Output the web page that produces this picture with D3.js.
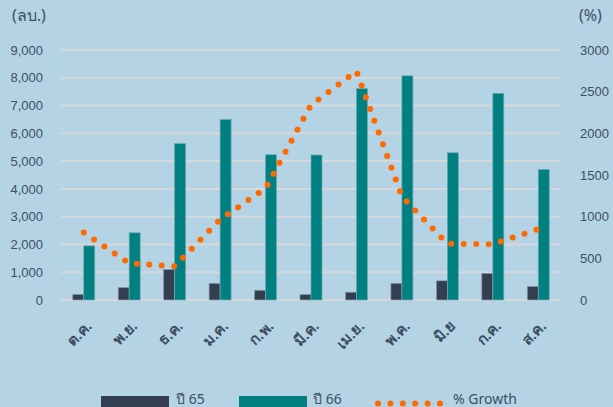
<!DOCTYPE html>
<html>
<head>
<meta charset="utf-8">
<script src="https://cdn.jsdelivr.net/npm/d3@7"></script>
<style>
  body { margin: 0; background: #b4d3e5; }
  svg { display: block; font-family: "Noto Sans", "DejaVu Sans", sans-serif; }
  .tick text { fill: #3d4f63; font-size: 13px; }
</style>
</head>
<body>
<div id="chart"></div>
<script>
// months (Thai fiscal year, Oct - Aug)
var months = ["ต.ค.", "พ.ย.", "ธ.ค.", "ม.ค.", "ก.พ.", "มี.ค.", "เม.ย.", "พ.ค.", "มิ.ย", "ก.ค.", "ส.ค."];
var year65 = [200, 450, 1100, 600, 350, 200, 280, 600, 690, 960, 490];
var year66 = [1950, 2420, 5630, 6500, 5230, 5220, 7610, 8070, 5300, 7440, 4700];
var growth = [810, 440, 405, 965, 1340, 2340, 2745, 1240, 675, 670, 850];
var leftTicks = [0, 1000, 2000, 3000, 4000, 5000, 6000, 7000, 8000, 9000];
var rightTicks = [0, 500, 1000, 1500, 2000, 2500, 3000];

var svgWidth = 613;
var svgHeight = 407;

var margin = { top: 50, right: 52, bottom: 107, left: 61 };
var width = svgWidth - margin.left - margin.right;
var height = svgHeight - margin.top - margin.bottom;

var svg = d3.select("#chart")
  .append("svg")
  .attr("width", svgWidth)
  .attr("height", svgHeight);

var chartGroup = svg.append("g")
  .attr("transform", `translate(${margin.left}, ${margin.top})`);

var x = d3.scaleBand().domain(months).range([0, width]);
var yLeft = d3.scaleLinear().domain([0, 9000]).range([height, 0]);
var yRight = d3.scaleLinear().domain([0, 3000]).range([height, 0]);

// gridlines
chartGroup.selectAll(".grid")
  .data(leftTicks)
  .enter()
  .append("line")
  .attr("x1", 0)
  .attr("x2", width)
  .attr("y1", d => yLeft(d))
  .attr("y2", d => yLeft(d))
  .attr("stroke", "#d6d9dc")
  .attr("stroke-width", 2);

// left axis
var leftAxis = d3.axisLeft(yLeft).tickValues(leftTicks).tickSize(0).tickPadding(18)
  .tickFormat(d3.format(","));
chartGroup.append("g").call(leftAxis).call(g => g.select(".domain").remove());

// right axis
var rightAxis = d3.axisRight(yRight).tickValues(rightTicks).tickSize(0).tickPadding(19)
  .tickFormat(d3.format("d"));
chartGroup.append("g")
  .attr("transform", `translate(${width}, 0)`)
  .call(rightAxis)
  .call(g => g.select(".domain").remove());

// bars
var barW = 11;
chartGroup.selectAll(".bar65")
  .data(months)
  .enter()
  .append("rect")
  .attr("x", d => x(d) + x.bandwidth() / 2 - barW)
  .attr("y", (d, i) => yLeft(year65[i]))
  .attr("width", barW)
  .attr("height", (d, i) => height - yLeft(year65[i]))
  .attr("fill", "#333f50")
  .attr("stroke", "#8a9bab")
  .attr("stroke-width", 0.7);

chartGroup.selectAll(".bar66")
  .data(months)
  .enter()
  .append("rect")
  .attr("x", d => x(d) + x.bandwidth() / 2)
  .attr("y", (d, i) => yLeft(year66[i]))
  .attr("width", barW)
  .attr("height", (d, i) => height - yLeft(year66[i]))
  .attr("fill", "#008080")
  .attr("stroke", "#6fa9ad")
  .attr("stroke-width", 0.7);

// growth line (round dots)
var line = d3.line()
  .x((d, i) => x(months[i]) + x.bandwidth() / 2)
  .y(d => yRight(d));

chartGroup.append("path")
  .datum(growth)
  .attr("d", line)
  .attr("fill", "none")
  .attr("stroke", "#ff6a00")
  .attr("stroke-width", 6)
  .attr("stroke-linecap", "round")
  .attr("stroke-dasharray", "0 12.5");

// month labels
chartGroup.selectAll(".mlabel")
  .data(months)
  .enter()
  .append("text")
  .attr("transform", d => `translate(${x(d) + x.bandwidth() / 2 + 9}, ${height + 27}) rotate(-45)`)
  .attr("text-anchor", "end")
  .attr("fill", "#3d4f63")
  .style("font-size", "15px")
  .style("font-weight", "600")
  .text(d => d);

// axis titles
svg.append("text")
  .attr("x", 12)
  .attr("y", 21)
  .attr("fill", "#3d4f63")
  .style("font-size", "16px")
  .text("(ลบ.)");

svg.append("text")
  .attr("x", 579)
  .attr("y", 21)
  .attr("fill", "#3d4f63")
  .style("font-size", "16px")
  .text("(%)");

// legend
var legend = svg.append("g");
legend.append("rect").attr("x", 101).attr("y", 396).attr("width", 68).attr("height", 14).attr("fill", "#333f50");
legend.append("text").attr("x", 176).attr("y", 404).attr("fill", "#3d4f63").style("font-size", "14px").text("ปี 65");
legend.append("rect").attr("x", 239).attr("y", 396).attr("width", 68).attr("height", 14).attr("fill", "#008080");
legend.append("text").attr("x", 313).attr("y", 404).attr("fill", "#3d4f63").style("font-size", "14px").text("ปี 66");
legend.append("line")
  .attr("x1", 378).attr("x2", 441).attr("y1", 403.5).attr("y2", 403.5)
  .attr("stroke", "#ff6a00")
  .attr("stroke-width", 6)
  .attr("stroke-linecap", "round")
  .attr("stroke-dasharray", "0 12.4");
legend.append("text").attr("x", 453).attr("y", 404).attr("fill", "#3d4f63").style("font-size", "14px").text("% Growth");
</script>
</body>
</html>
